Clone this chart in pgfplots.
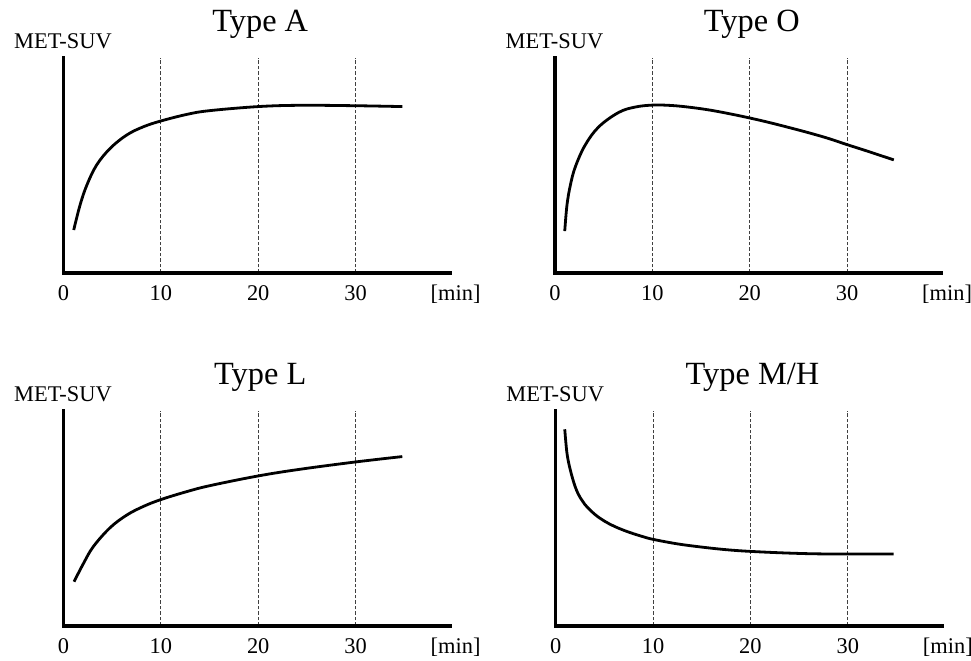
\documentclass[border=0pt]{standalone}
\usepackage{fontspec}
\setmainfont{Liberation Serif}
\usepackage{pgfplots}
\pgfplotsset{compat=1.18}

\pgfplotsset{
  panel/.style={
    scale only axis,
    width=386.5bp, height=215bp,
    xmin=0, xmax=39.7, ymin=0, ymax=1,
    axis x line*=bottom, axis y line*=left,
    axis line style={line width=3.5bp, line cap=rect, -},
    xtick={0,10,20,30}, ytick=\empty,
    major tick length=0pt,
    /pgf/number format/assume math mode=true,
    xticklabel style={font=\fontsize{22.5}{27}\selectfont, anchor=base, yshift=-27.8bp, inner sep=0pt},
    xmajorgrids,
    grid style={line width=0.9bp, black!75, dash pattern=on 3.5bp off 2bp},
    title style={font=\fontsize{32.5}{38}\selectfont, at={(rel axis cs:0.5,1)}, anchor=base, xshift=3.5bp, yshift=20.3bp, inner sep=0pt},
    clip=false,
  },
}
\newcommand{\panellabels}{%
  \node[anchor=base west, inner sep=0pt, font=\fontsize{22.5}{27}\selectfont] at (rel axis cs:0,1) [xshift=-49.5bp, yshift=9.6bp] {MET-SUV};
  \node[anchor=base west, inner sep=0pt, font=\fontsize{22.5}{27}\selectfont] at (rel axis cs:1,0) [xshift=-19.5bp, yshift=-27.8bp] {[min]};
}

\begin{document}
\begin{tikzpicture}
\useasboundingbox (0,0) rectangle (971bp,661bp);

% Type A
\begin{axis}[panel, at={(63.5bp,388bp)}, anchor=south west, title={Type A}]
\addplot[black, line width=2.8bp, no marks, smooth, tension=0.6] coordinates {
(1.05,0.20) (1.7,0.316) (2.4,0.409) (3.4,0.502) (4.8,0.58) (6.5,0.642)
(8.2,0.68) (10,0.707) (12.7,0.738) (15,0.755) (20,0.774) (24.3,0.78)
(30,0.778) (34.8,0.774)};
\panellabels
\end{axis}

% Type O
\begin{axis}[panel, at={(555bp,388bp)}, anchor=south west, title={Type O}]
\addplot[black, line width=2.8bp, no marks, smooth, tension=0.6] coordinates {
(1.0,0.195) (1.23,0.316) (1.58,0.409) (2.09,0.494) (3.1,0.595) (4.5,0.68)
(6.55,0.747) (8.26,0.772) (10.08,0.781) (12,0.779) (14,0.770) (16,0.757)
(18,0.740) (20,0.721) (22,0.700) (24,0.677) (26,0.653) (28,0.627)
(30,0.597) (32,0.568) (34.8,0.526)};
\panellabels
\end{axis}

% Type L
\begin{axis}[panel, at={(63.5bp,35bp)}, anchor=south west, title={Type L}]
\addplot[black, line width=2.8bp, no marks, smooth, tension=0.6] coordinates {
(1.08,0.206) (2.04,0.29) (3.06,0.369) (4.78,0.457) (6.5,0.516) (8.2,0.556)
(10,0.588) (12.66,0.625) (15.06,0.653) (20,0.698) (24.3,0.729) (30,0.763)
(34.8,0.788)};
\panellabels
\end{axis}

% Type M/H
\begin{axis}[panel, at={(555.7bp,35bp)}, anchor=south west, title={Type M/H}]
\addplot[black, line width=2.8bp, no marks, smooth, tension=0.6] coordinates {
(0.93,0.915) (1.16,0.803) (1.5,0.726) (2.0,0.648) (2.5,0.598) (3.0,0.565)
(4.0,0.520) (5.0,0.488) (6.0,0.464) (7.0,0.445) (8.0,0.429) (9.0,0.415)
(10,0.403) (12.5,0.382) (15,0.367) (17.5,0.355) (20,0.347) (24,0.339)
(28,0.335) (34.7,0.335)};
\panellabels
\end{axis}
\end{tikzpicture}
\end{document}
